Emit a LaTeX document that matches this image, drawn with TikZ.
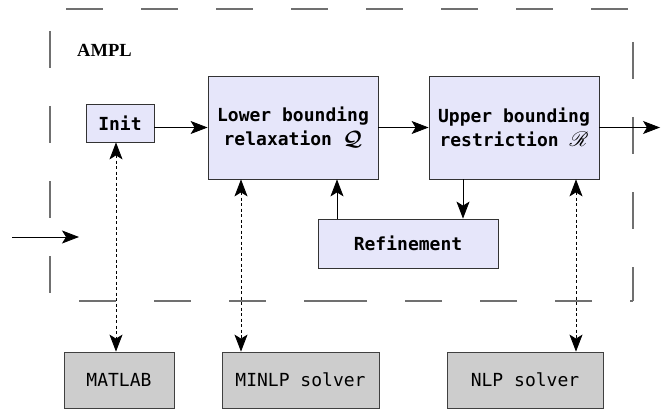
\documentclass[tikz,border=0pt]{standalone}
\usepackage{fontspec}
\usepackage{mathrsfs}
\setmainfont{Liberation Serif}
\setmonofont{DejaVu Sans Mono}
\usetikzlibrary{arrows.meta,calc}
\definecolor{lav}{HTML}{E6E6FA}
\definecolor{boxgray}{HTML}{CDCDCD}
\definecolor{framegray}{HTML}{707070}
\newcommand{\bigmath}[1]{{\fontsize{22}{24}\selectfont\boldmath$#1$}}
\begin{document}
\begin{tikzpicture}[x=1pt,y=-1pt,
  proc/.style={draw=black!80, fill=lav, font=\ttfamily\bfseries\fontsize{18}{24}\selectfont, align=center, inner sep=0pt, line width=0.8pt},
  tool/.style={draw=black!75, fill=boxgray, font=\ttfamily\fontsize{18}{24}\selectfont, inner sep=0pt, line width=0.8pt},
  arr/.style={-{Stealth[length=17pt,width=13pt,inset=4pt]}, line width=0.8pt},
  dotarr/.style={{Stealth[length=17pt,width=13pt,inset=4pt]}-{Stealth[length=17pt,width=13pt,inset=4pt]}, dash pattern=on 3pt off 2.5pt, line width=0.8pt},
  frameline/.style={draw=framegray, line width=1.2pt, dash pattern=on 37pt off 38pt}
]
\useasboundingbox (0,0) rectangle (661,409);

% dashed AMPL frame
\draw[frameline, dash phase=59pt] (50,9) -- (633,9);
\draw[frameline, dash phase=53pt] (50,9) -- (50,301);
\draw[frameline, dash phase=42pt] (633,9) -- (633,301);
\draw[frameline, dash phase=46pt] (50,301) -- (341,301);
\draw[frameline, dash phase=34pt] (633,301) -- (330,301);

\node[anchor=base west, font=\bfseries\fontsize{18.5}{20}\selectfont, inner sep=0pt] (ampl) at (77,57) {AMPL};

% process boxes
\node[proc, minimum width=68pt, minimum height=38pt] (init) at (120,123) {Init};
\node[proc, minimum width=170pt, minimum height=103pt] (lower) at (293,127.5) {Lower bounding\\relaxation \bigmath{\mathcal{Q}}};
\node[proc, minimum width=170pt, minimum height=103pt] (upper) at (514,127.5) {Upper bounding\\restriction \bigmath{\mathscr{R}}};
\node[proc, minimum width=180pt, minimum height=49pt] (refine) at (408,243.5) {Refinement};

% external tools
\node[tool, minimum width=110pt, minimum height=56pt] (matlab) at (119,380) {MATLAB};
\node[tool, minimum width=157pt, minimum height=56pt] (minlp) at (300.5,380) {MINLP solver};
\node[tool, minimum width=156pt, minimum height=56pt] (nlp) at (525,380) {NLP solver};

% helper coordinates
\coordinate (inA) at (12,237);
\coordinate (inB) at (79,237);
\coordinate (outB) at (660,127.5);
\coordinate (xi) at (116,0);
\coordinate (xm) at (241,0);
\coordinate (xr) at (337,0);
\coordinate (xu) at (463,0);
\coordinate (xn) at (576,0);

% flow arrows
\draw[arr] (inA) -- (inB);
\draw[arr] (init.east |- lower.west) -- (lower.west);
\draw[arr] (lower.east) -- (upper.west);
\draw[arr] (upper.east) -- (outB);
\draw[arr] (refine.north -| xr) -- (lower.south -| xr);
\draw[arr] (upper.south -| xu) -- (refine.north -| xu);

% tool links
\draw[dotarr] (init.south -| xi) -- (matlab.north -| xi);
\draw[dotarr] (lower.south -| xm) -- (minlp.north -| xm);
\draw[dotarr] (upper.south -| xn) -- (nlp.north -| xn);
\end{tikzpicture}
\end{document}
